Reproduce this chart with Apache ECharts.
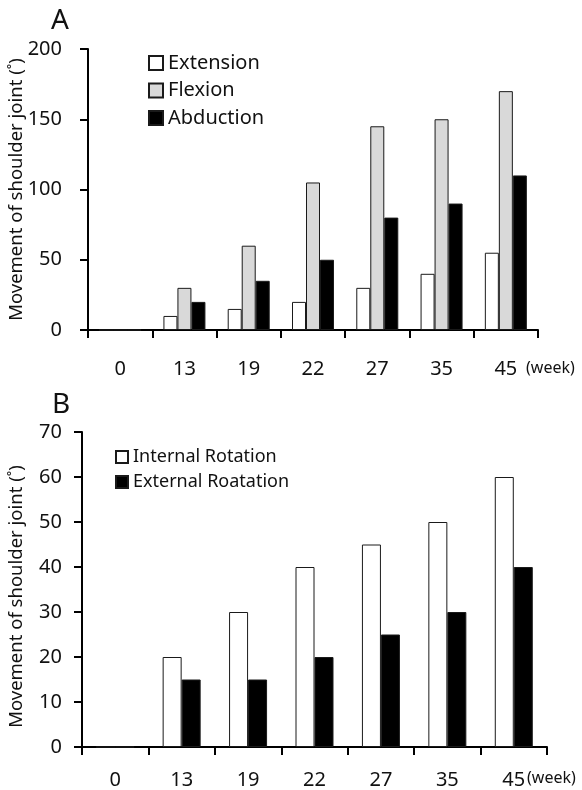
<!DOCTYPE html>
<html>
<head>
<meta charset="utf-8">
<script src="https://cdn.jsdelivr.net/npm/echarts@6/dist/echarts.min.js"></script>
<style>
  html, body { margin: 0; padding: 0; background: #fff; }
  #chart { width: 582px; height: 790px; }
</style>
</head>
<body>
<div id="chart"></div>
<script>
// weeks after surgery
const weeks = ['0', '13', '19', '22', '27', '35', '45'];

// panel A
const extension = [0, 10, 15, 20, 30, 40, 55];
const flexion = [0, 30, 60, 105, 145, 150, 170];
const abduction = [0, 20, 35, 50, 80, 90, 110];

// panel B
const internalRotation = [0, 20, 30, 40, 45, 50, 60];
const externalRotation = [0, 15, 15, 20, 25, 30, 40];

const yName = 'Movement of shoulder joint (˚)';
const font = '"Noto Sans", "Open Sans", sans-serif';

const chart = echarts.init(document.getElementById('chart'));

const axisLine = { show: true, lineStyle: { color: '#000', width: 2 } };
const axisTick = { show: true, inside: false, length: 8, lineStyle: { color: '#000', width: 2 } };
const barBorder = { borderColor: '#1a1a1a', borderWidth: 1 };

const option = {
  animation: false,
  textStyle: { fontFamily: font, color: '#111' },
  title: [
    { text: 'A', left: 46, top: 2, textStyle: { fontSize: 28, fontWeight: 'normal', color: '#111', fontFamily: font } },
    { text: 'B', left: 47, top: 386, textStyle: { fontSize: 28, fontWeight: 'normal', color: '#111', fontFamily: font } }
  ],
  legend: [
    {
      data: ['Extension', 'Flexion', 'Abduction'],
      orient: 'vertical',
      left: 148, top: 53, padding: 0,
      icon: 'rect',
      itemWidth: 14, itemHeight: 14, itemGap: 7.5,
      textStyle: { fontSize: 20, lineHeight: 20, color: '#111', fontFamily: font }
    },
    {
      data: ['Internal Rotation', 'External Roatation'],
      orient: 'vertical',
      left: 115, top: 448, padding: 0,
      icon: 'rect',
      itemWidth: 12, itemHeight: 12, itemGap: 7,
      textStyle: { fontSize: 18, lineHeight: 18, color: '#111', fontFamily: font }
    }
  ],
  grid: [
    { left: 88, top: 49, width: 450, height: 281, outerBoundsMode: 'none' },
    { left: 82, top: 432, width: 465, height: 315, outerBoundsMode: 'none' }
  ],
  xAxis: [
    {
      gridIndex: 0, type: 'category', data: weeks,
      axisLine: axisLine, axisTick: axisTick,
      axisLabel: { margin: 29, fontSize: 20, color: '#111', fontFamily: font }
    },
    {
      gridIndex: 1, type: 'category', data: weeks,
      axisLine: axisLine, axisTick: axisTick,
      axisLabel: { margin: 23, fontSize: 20, color: '#111', fontFamily: font }
    }
  ],
  yAxis: [
    {
      gridIndex: 0, type: 'value', min: 0, max: 200, interval: 50,
      axisLine: axisLine, axisTick: axisTick, splitLine: { show: false },
      axisLabel: { margin: 26, fontSize: 20, color: '#111', fontFamily: font },
      name: yName, nameLocation: 'middle', nameGap: 62, nameMoveOverlap: false,
      nameTextStyle: { fontSize: 18.5, color: '#111', fontFamily: font }
    },
    {
      gridIndex: 1, type: 'value', min: 0, max: 70, interval: 10,
      axisLine: axisLine, axisTick: axisTick, splitLine: { show: false },
      axisLabel: { margin: 20, fontSize: 20, color: '#111', fontFamily: font },
      name: yName, nameLocation: 'middle', nameGap: 56, nameMoveOverlap: false,
      nameTextStyle: { fontSize: 18.5, color: '#111', fontFamily: font, padding: [0, 14, 0, 0] }
    }
  ],
  graphic: [
    { type: 'text', left: 526, top: 360, style: { text: '(week)', font: '16px ' + font, fill: '#111' } },
    { type: 'text', left: 527, top: 770, style: { text: '(week)', font: '16px ' + font, fill: '#111' } }
  ],
  series: [
    {
      name: 'Extension', type: 'bar', xAxisIndex: 0, yAxisIndex: 0, data: extension,
      barWidth: 14, barGap: '0%',
      itemStyle: Object.assign({ color: '#fff' }, barBorder)
    },
    {
      name: 'Flexion', type: 'bar', xAxisIndex: 0, yAxisIndex: 0, data: flexion,
      barWidth: 14, barGap: '0%',
      itemStyle: Object.assign({ color: '#d9d9d9' }, barBorder)
    },
    {
      name: 'Abduction', type: 'bar', xAxisIndex: 0, yAxisIndex: 0, data: abduction,
      barWidth: 14, barGap: '0%',
      itemStyle: Object.assign({ color: '#000' }, barBorder)
    },
    {
      name: 'Internal Rotation', type: 'bar', xAxisIndex: 1, yAxisIndex: 1, data: internalRotation,
      barWidth: 19, barGap: '0%',
      itemStyle: Object.assign({ color: '#fff' }, barBorder)
    },
    {
      name: 'External Roatation', type: 'bar', xAxisIndex: 1, yAxisIndex: 1, data: externalRotation,
      barWidth: 19, barGap: '0%',
      itemStyle: Object.assign({ color: '#000' }, barBorder)
    }
  ]
};

chart.setOption(option);
</script>
</body>
</html>
